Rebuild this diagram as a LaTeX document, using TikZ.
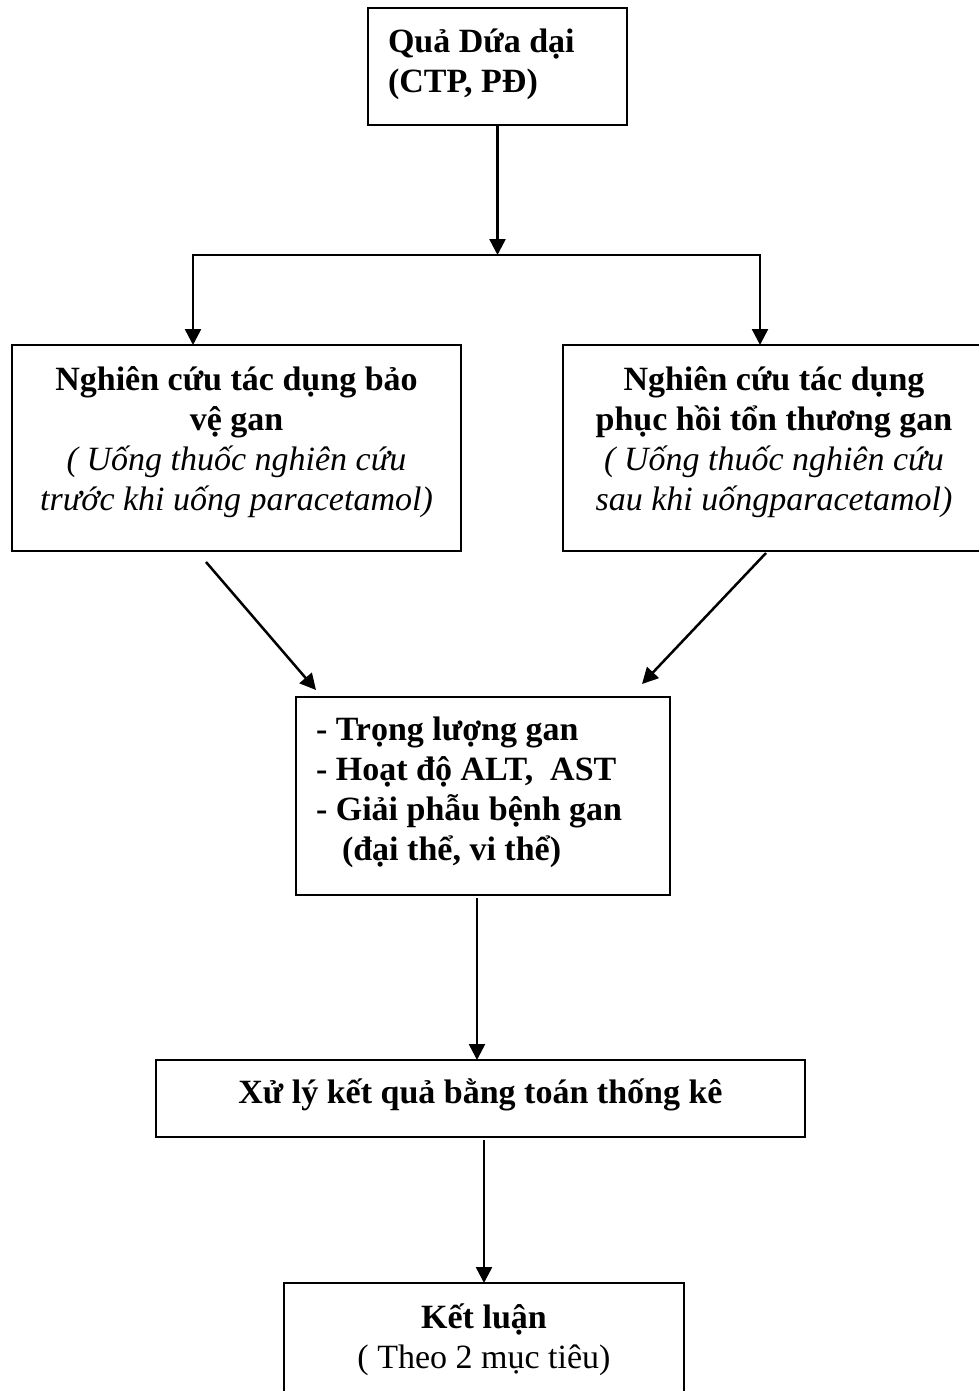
\documentclass[tikz,border=0pt]{standalone}
\usepackage{fontspec}
\setmainfont{Liberation Serif}
\usetikzlibrary{arrows.meta}
\setlength{\lineskiplimit}{-100pt}
\newcommand{\mkbox}[3]{\parbox[c][#2][t]{#1}{#3}}
\begin{document}
\begin{tikzpicture}[x=1pt,y=-1pt,
  box/.style={draw, line width=2.3pt, inner sep=0pt, outer sep=0pt, anchor=north west,
              font=\fontsize{34}{40}\selectfont\bfseries},
  arr/.style={line width=2.5pt, -{Triangle[length=16pt,width=16pt]}}]
\useasboundingbox[fill=white] (0,0) rectangle (978,1391);

\node[box] (top) at (368,8) {\mkbox{259pt}{117pt}{\raggedright\leftskip=20pt\rule{0pt}{45pt}Quả Dứa dại\\(CTP, PĐ)}};

\node[box] (lbox) at (12,345) {\mkbox{449pt}{206pt}{\centering\rule{0pt}{45pt}Nghiên cứu tác dụng bảo\\vệ gan\\\mdseries\itshape ( Uống thuốc nghiên cứu\\trước khi uống paracetamol)}};

\node[box] (rbox) at (563,345) {\mkbox{422pt}{206pt}{\centering\rule{0pt}{45pt}Nghiên cứu tác dụng\\phục hồi tổn thương gan\\\mdseries\itshape ( Uống thuốc nghiên cứu\\sau khi uốngparacetamol)}};

\node[box] (mid) at (296,697) {\mkbox{374pt}{198pt}{\raggedright\leftskip=20pt\rule{0pt}{43pt}- Trọng lượng gan\\- Hoạt độ ALT,\ \ AST\\- Giải phẫu bệnh gan\\\hspace*{26pt}(đại thể, vi thể)}};

\node[box] (xuly) at (156,1060) {\mkbox{649pt}{77pt}{\centering\rule{0pt}{43pt}Xử lý kết quả bằng toán thống kê}};

\node[box] (ket) at (284,1283) {\mkbox{400pt}{140pt}{\centering\rule{0pt}{45pt}Kết luận\\\mdseries ( Theo 2 mục tiêu)}};

% connectors
\coordinate (split) at (top.south |- 0,255);
\coordinate (lt) at ([xshift=-43.5pt]lbox.north);
\coordinate (rt) at ([xshift=-14pt]rbox.north);
\draw[arr] (top.south) -- (split);
\draw[arr] (split) -| (lt);
\draw[arr] (split) -| (rt);

\coordinate (la) at ([xshift=-30.5pt,yshift=-11pt]lbox.south);
\coordinate (lb) at ([xshift=20pt,yshift=7pt]mid.north west);
\coordinate (ra) at ([xshift=-8pt,yshift=-2pt]rbox.south);
\coordinate (rb) at ([xshift=-28pt,yshift=13pt]mid.north east);
\draw[arr] (la) -- (lb);
\draw[arr] (ra) -- (rb);

\coordinate (mx) at ([xshift=-6pt]mid.south);
\draw[arr, shorten <=3pt] (mx) -- (mx |- xuly.north);
\draw[arr, shorten <=3pt] (xuly.south -| ket.north) -- (ket.north);
\end{tikzpicture}
\end{document}
